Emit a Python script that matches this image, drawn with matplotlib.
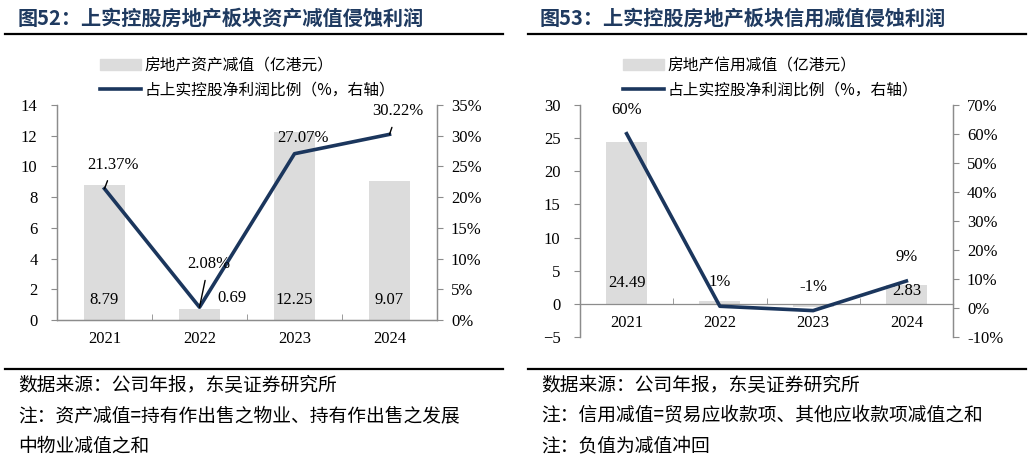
import matplotlib
matplotlib.use('Agg')
import matplotlib.pyplot as plt
from matplotlib.lines import Line2D
from matplotlib.patches import Patch
from matplotlib.ticker import FuncFormatter

plt.rcParams['font.family'] = ['Liberation Serif', 'Noto Sans CJK SC']

# data
years = ['2021', '2022', '2023', '2024']
asset_impair = [8.79, 0.69, 12.25, 9.07]          # 亿港元
asset_ratio = [21.37, 2.08, 27.07, 30.22]          # %
credit_impair = [24.49, 0.45, -0.45, 2.83]         # 亿港元
credit_ratio = [60.1, 0.6, -0.9, 9.3]              # %
credit_ratio_labels = ['60%', '1%', '-1%', '9%']

navy = '#1B365D'
bar_c = '#DCDCDC'
spine_c = '#8C8C8C'
title_c = '#1F3A60'
cjk = ['Noto Sans CJK SC', 'DejaVu Sans']

W, H = 1032, 463
fig = plt.figure(figsize=(W / 100, H / 100), dpi=100)


def fx(px):
    return px / W


def fy(py):
    return 1 - py / H


def style_axes(ax, ax2):
    for a in (ax, ax2):
        a.spines['top'].set_visible(False)
        for s in ('left', 'right', 'bottom'):
            a.spines[s].set_color(spine_c)
            a.spines[s].set_linewidth(0.9)
    ax.tick_params(axis='y', which='major', direction='out', length=4, color=spine_c,
                   labelsize=12, pad=10)
    ax2.tick_params(axis='y', which='major', direction='out', length=4, color=spine_c,
                    labelsize=12, pad=6)
    ax.set_xticks(range(len(years)))
    ax.set_xticklabels(years)
    ax.tick_params(axis='x', which='major', length=0, labelsize=12, pad=8)
    ax.set_xticks([0.5, 1.5, 2.5], minor=True)
    ax.tick_params(axis='x', which='minor', direction='in', length=4, color=spine_c)
    ax.set_xlim(-0.5, 3.5)
    ax2.yaxis.set_major_formatter(FuncFormatter(lambda v, p: f'{v:.0f}%'))


# ---------------- left panel ----------------
axL = fig.add_axes([fx(57), fy(320), fx(437 - 57), (320 - 105) / H])
axL2 = axL.twinx()
x = range(len(years))
axL.bar(x, asset_impair, width=0.44, color=bar_c, zorder=1)
axL.set_ylim(0, 14)
axL.set_yticks(range(0, 15, 2))
axL2.plot(x, asset_ratio, color=navy, lw=2.6, zorder=3)
axL2.set_ylim(0, 35)
axL2.set_yticks(range(0, 36, 5))
style_axes(axL, axL2)

for i, v in enumerate(asset_impair):
    if i == 1:
        axL.text(i + 0.34, 1.4, f'{v:.2f}', ha='center', va='center', fontsize=12)
    else:
        axL.text(i, 1.3, f'{v:.2f}', ha='center', va='center', fontsize=12)

offs = [(9, 24, True), (9, 43, True), (9, 16, False), (8, 23, True)]
for i, v in enumerate(asset_ratio):
    dx, dy, lead = offs[i]
    kw = dict(arrowprops=dict(arrowstyle='-', color='black', lw=1.0,
                              shrinkA=4, shrinkB=0)) if lead else {}
    axL2.annotate(f'{v:.2f}%', xy=(i, v), xytext=(dx, dy), textcoords='offset pixels',
                  ha='center', va='center', fontsize=12, **kw)

fig.legend(handles=[Patch(color=bar_c), Line2D([], [], color=navy, lw=2.6)],
           labels=['房地产资产减值（亿港元）', '占上实控股净利润比例（%，右轴）'],
           loc='upper left', bbox_to_anchor=(fx(100), fy(57)), frameon=False,
           prop={'family': cjk, 'size': 11.3}, borderpad=0, borderaxespad=0,
           handlelength=2.6, handletextpad=0.25, labelspacing=0.45)

# ---------------- right panel ----------------
axR = fig.add_axes([fx(580), fy(337), fx(953 - 580), (337 - 105) / H])
axR2 = axR.twinx()
axR.bar(x, credit_impair, width=0.44, color=bar_c, zorder=1)
axR.set_ylim(-5, 30)
axR.set_yticks(range(-5, 31, 5))
axR2.plot(x, credit_ratio, color=navy, lw=2.6, zorder=3)
axR2.set_ylim(-10, 70)
axR2.set_yticks(range(-10, 71, 10))
style_axes(axR, axR2)
axR.spines['bottom'].set_position(('data', 0))
axR2.spines['bottom'].set_visible(False)

axR.text(0, 3.15, f'{credit_impair[0]:.2f}', ha='center', va='center', fontsize=12)
axR.text(3, 1.95, f'{credit_impair[3]:.2f}', ha='center', va='center', fontsize=12)
for i, v in enumerate(credit_ratio):
    axR2.annotate(credit_ratio_labels[i], xy=(i, v), xytext=(0, 24),
                  textcoords='offset pixels', ha='center', va='center', fontsize=12)

fig.legend(handles=[Patch(color=bar_c), Line2D([], [], color=navy, lw=2.6)],
           labels=['房地产信用减值（亿港元）', '占上实控股净利润比例（%，右轴）'],
           loc='upper left', bbox_to_anchor=(fx(623), fy(57)), frameon=False,
           prop={'family': cjk, 'size': 11.3}, borderpad=0, borderaxespad=0,
           handlelength=2.6, handletextpad=0.25, labelspacing=0.45)

# ---------------- titles, rules, notes ----------------
fig.text(fx(18), fy(18), '图52：上实控股房地产板块资产减值侵蚀利润', family=cjk,
         fontsize=14.5, fontweight='bold', color=title_c, va='center')
fig.text(fx(540), fy(18), '图53：上实控股房地产板块信用减值侵蚀利润', family=cjk,
         fontsize=14.5, fontweight='bold', color=title_c, va='center')

for x0, x1 in [(5, 503), (528, 1026)]:
    fig.add_artist(Line2D([fx(x0), fx(x1)], [fy(34), fy(34)], color='black', lw=1.6))
    fig.add_artist(Line2D([fx(x0), fx(x1)], [fy(369), fy(369)], color='black', lw=1.6))

notes_left = ['数据来源：公司年报，东吴证券研究所',
              '注：资产减值=持有作出售之物业、持有作出售之发展',
              '中物业减值之和']
notes_right = ['数据来源：公司年报，东吴证券研究所',
               '注：信用减值=贸易应收款项、其他应收款项减值之和',
               '注：负值为减值冲回']
for k, t in enumerate(notes_left):
    fig.text(fx(18), fy(386 + 30 * k), t, family=cjk, fontsize=13.5, va='center')
for k, t in enumerate(notes_right):
    fig.text(fx(541), fy(386 + 30 * k), t, family=cjk, fontsize=13.5, va='center')

fig.savefig('out.png', dpi=100)
